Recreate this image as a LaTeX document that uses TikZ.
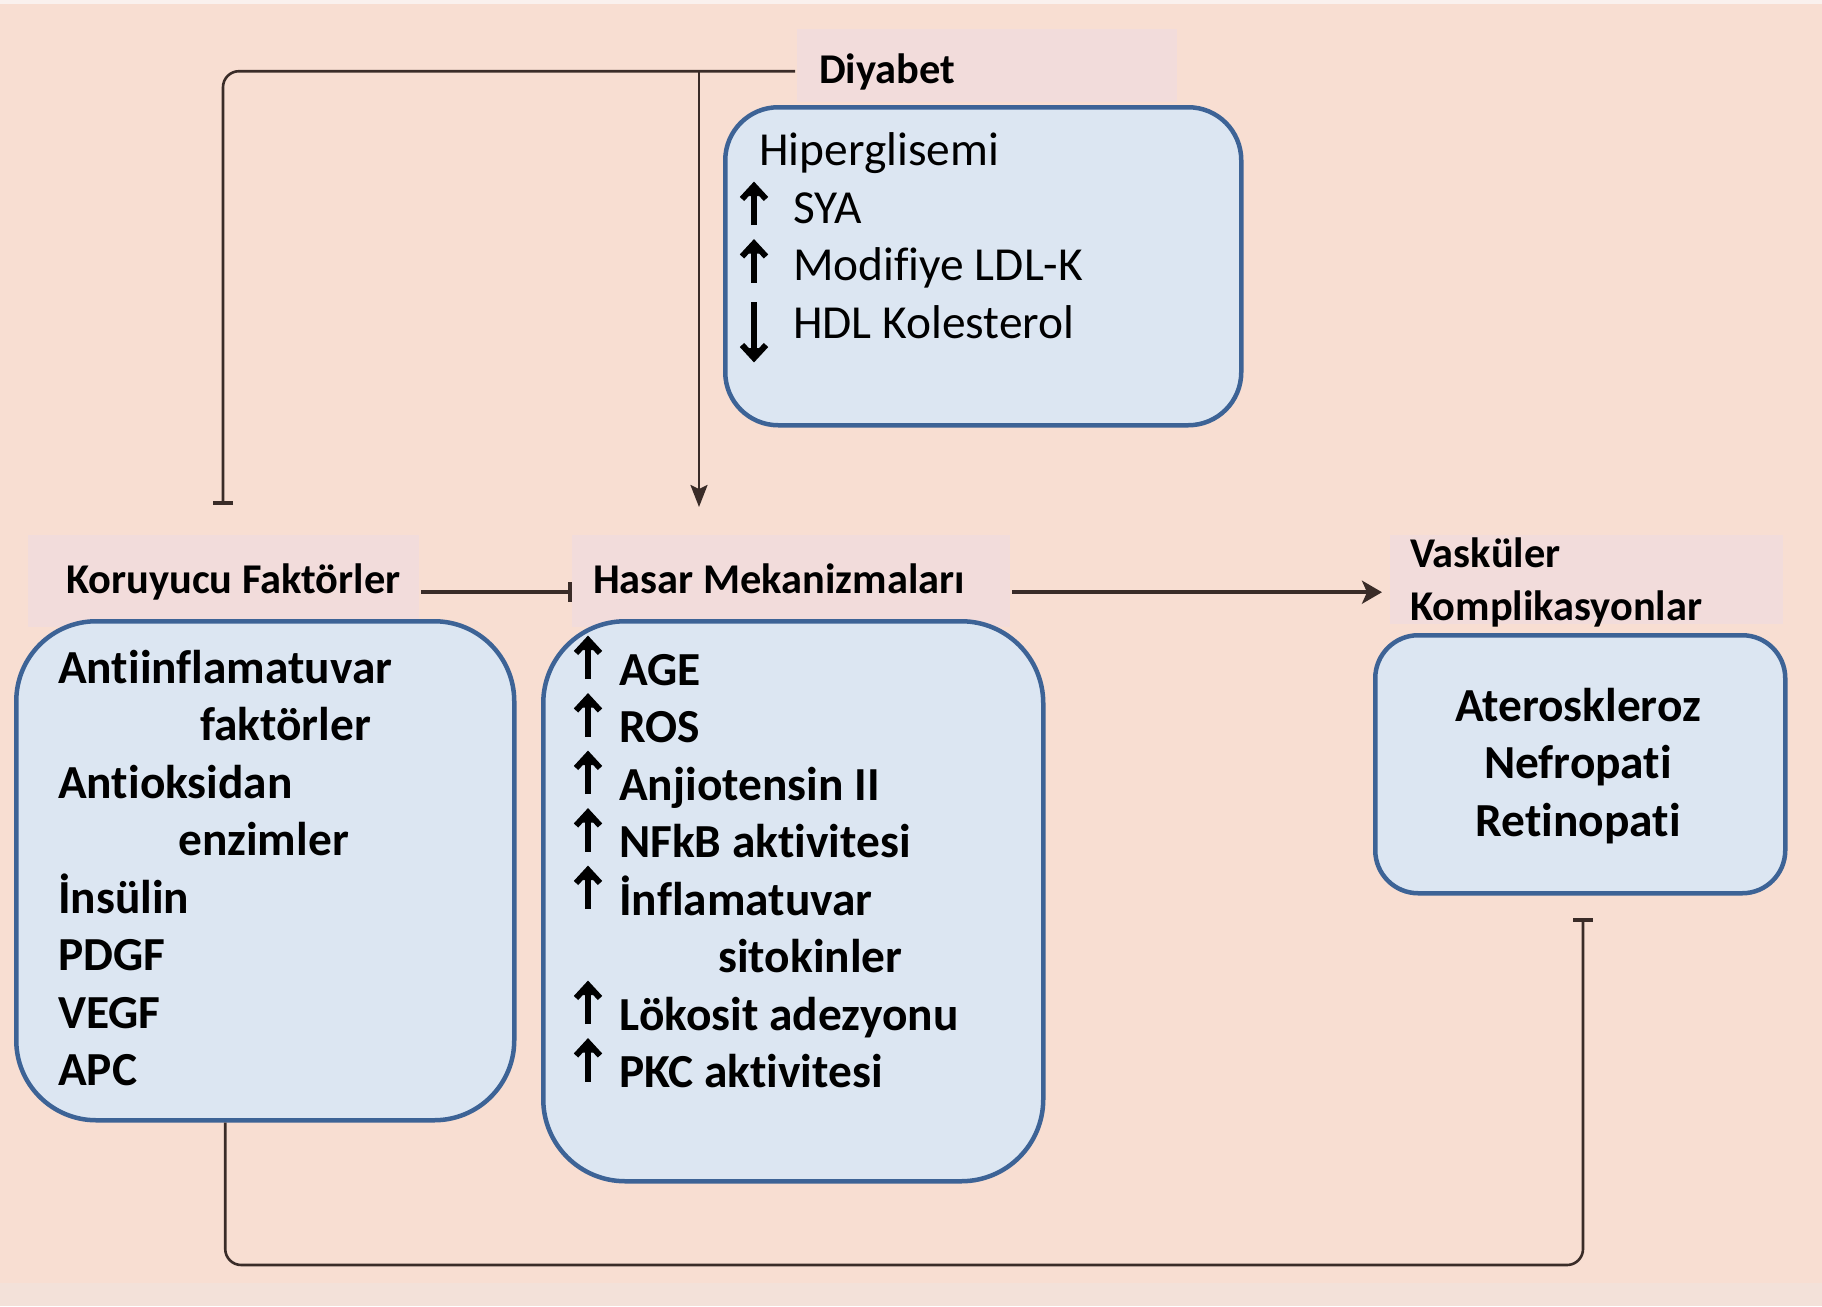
\documentclass[tikz,border=0pt]{standalone}
\usepackage{fontspec}
\setmainfont{Carlito}[Ligatures=NoCommon]
\usetikzlibrary{arrows.meta}

\definecolor{bgpeach}{HTML}{F8DED2}
\definecolor{topstrip}{HTML}{FAF1EE}
\definecolor{botstrip}{HTML}{F3E1D9}
\definecolor{labelpink}{HTML}{F2DCDB}
\definecolor{boxfill}{HTML}{DCE6F2}
\definecolor{boxline}{HTML}{3D6396}
\definecolor{linkcol}{HTML}{3A2C28}

\begin{document}
\begin{tikzpicture}[x=1pt,y=-1pt,
  labelbg/.style={fill=labelpink, draw=none, inner sep=0pt, anchor=north west},
  panel/.style={draw=boxline, line width=4.5pt, fill=boxfill, inner sep=0pt, anchor=north west},
  head/.style={anchor=base west, inner sep=0pt, font=\fontsize{42.4}{53}\selectfont\bfseries},
  itemb/.style={anchor=base west, inner sep=0pt, font=\fontsize{47.4}{57.5}\selectfont\bfseries},
  itemr/.style={anchor=base west, inner sep=0pt, font=\fontsize{47.4}{57.5}\selectfont},
  itemc/.style={anchor=base, inner sep=0pt, font=\fontsize{47.4}{57.5}\selectfont\bfseries},
  link/.style={draw=linkcol, line width=2.6pt, rounded corners=16pt},
  mainlink/.style={draw=linkcol, line width=3.6pt},
  inhibit/.style={-{Bar[width=20pt,line width=4pt]}},
  pics/upglyph/.style={code={
    \draw[line width=5.5pt] (0,0) -- (0,-36);
    \fill (-5,-29) -- (0,-40) -- (5,-29) -- cycle;
    \draw[line width=6pt, miter limit=10] (-12,-26) -- (0,-39) -- (12,-26);}},
  pics/downglyph/.style={code={
    \draw[line width=5.5pt] (0,0) -- (0,53);
    \fill (-5,46) -- (0,57) -- (5,46) -- cycle;
    \draw[line width=6pt, miter limit=10] (-12,43) -- (0,56) -- (12,43);}}
]
\useasboundingbox (0,0) rectangle (1822,1306);

% page background
\fill[bgpeach] (0,0) rectangle (1822,1306);
\fill[topstrip] (0,0) rectangle (1822,4);
\fill[botstrip] (0,1283) rectangle (1822,1306);

% title backgrounds
\node[labelbg, minimum width=380pt, minimum height=73pt] (diyback) at (797,29) {};
\node[labelbg, minimum width=391pt, minimum height=92pt] (korback) at (28,535) {};
\node[labelbg, minimum width=438pt, minimum height=92pt] (hasback) at (572,535) {};
\node[labelbg, minimum width=393pt, minimum height=89pt] (vasback) at (1390,535) {};

% rounded panels
\node[panel, rounded corners=53pt, minimum width=516pt, minimum height=318pt] (hyp) at (723,105) {};
\node[panel, rounded corners=80pt, minimum width=498pt, minimum height=499pt] (kor) at (14,619) {};
\node[panel, rounded corners=82pt, minimum width=500pt, minimum height=560pt] (has) at (541,619) {};
\node[panel, rounded corners=43pt, minimum width=410pt, minimum height=258pt] (vas) at (1373,633) {};

% titles
\node[head] (diy) at (819,83) {Diyabet};
\node[head] (kortitle) at (66,593) {Koruyucu Faktörler};
\node[head] (hastitle) at (593,593) {Hasar Mekanizmaları};
\node[head] (vastitle1) at (1410,567) {Vasküler};
\node[head] (vastitle2) at (1410,620) {Komplikasyonlar};

% diabetes panel
\node[itemr] (hg) at (759,165) {Hiperglisemi};
\node[itemr] (sya) at (793,223) {SYA};
\node[itemr] (ldl) at (793,280.5) {Modifiye LDL-K};
\node[itemr] (hdl) at (793,338) {HDL Kolesterol};
\pic at ([shift={(-39,2)}]sya.base west) {upglyph};
\pic at ([shift={(-39,2)}]ldl.base west) {upglyph};
\pic at ([shift={(-39,-36)}]hdl.base west) {downglyph};

% protective factors
\node[itemb] (k1) at (58,683) {Antiinflamatuvar};
\node[itemb] (k2) at (200,740.5) {faktörler};
\node[itemb] (k3) at (58,798) {Antioksidan};
\node[itemb] (k4) at (178,855.5) {enzimler};
\node[itemb] (k5) at (58,913) {İnsülin};
\node[itemb] (k6) at (58,970.5) {PDGF};
\node[itemb] (k7) at (58,1028) {VEGF};
\node[itemb] (k8) at (58,1085.5) {APC};

% damage mechanisms
\node[itemb] (age) at (619,685) {AGE};
\node[itemb] (ros) at (619,742.5) {ROS};
\node[itemb] (ang) at (619,800) {Anjiotensin II};
\node[itemb] (nfkb) at (619,857.5) {NFkB aktivitesi};
\node[itemb] (infl) at (619,915) {İnflamatuvar};
\node[itemb] (cyto) at (718,972.5) {sitokinler};
\node[itemb] (leuk) at (619,1030) {Lökosit adezyonu};
\node[itemb] (pkc) at (619,1087.5) {PKC aktivitesi};
\foreach \n in {age,ros,ang,nfkb,infl,leuk,pkc}
  \pic at ([shift={(-31,-6)}]\n.base west) {upglyph};

% vascular complications
\node[itemc] (ath) at (1578,721) {Ateroskleroz};
\node[itemc] (nep) at (1578,778.5) {Nefropati};
\node[itemc] (ret) at (1578,836) {Retinopati};

% connectors
\coordinate (korin) at (223,505);
\coordinate (split) at (699,71);
\coordinate (hasin) at (699,507);
\coordinate (vasin) at (1583,918);

\draw[link, inhibit] ([shift={(-2,5.5)}]diyback.west) -| (korin);
\draw[link, -{Stealth[length=22pt,width=17pt,inset=4pt]}] (split) -- (hasin);
\draw[mainlink, inhibit] ([shift={(2,11)}]korback.east) -- ([yshift=-11pt]hasback.west);
\draw[mainlink, -{Stealth[length=20pt,width=23pt,inset=5pt]}, shorten >=8pt]
  ([shift={(2,11)}]hasback.east) -- ([yshift=-12.5pt]vasback.west);
\draw[link, inhibit] ([xshift=-40pt]kor.south) |- (1583,1265) -- (vasin);

\end{tikzpicture}
\end{document}
